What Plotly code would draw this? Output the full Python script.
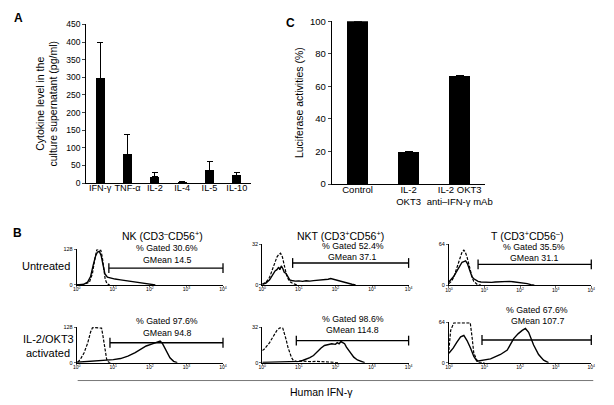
import plotly.graph_objects as go

# ---------------- data ----------------
cytokines = ["IFN-γ", "TNF-α", "IL-2", "IL-4", "IL-5", "IL-10"]
cytokine_values = [298, 82, 18, 3, 37, 22]
cytokine_errors = [100, 55, 13, 2, 25, 9]

luc_labels = ["Control", "IL-2<br>OKT3", "IL-2 OKT3<br>anti–IFN-γ mAb"]
luc_values = [100, 19.5, 66.5]
luc_errors = [2, 0.5, 0]

hist_ticks = [0, 1, 2, 3, 4]
hist_ticktext = ["10<sup>0</sup>", "10<sup>1</sup>", "10<sup>2</sup>", "10<sup>3</sup>", "10<sup>4</sup>"]

# NK untreated (log10 fluorescence, counts)
nk_u_solid_x = [0.0, 0.1, 0.2, 0.3, 0.38, 0.45, 0.52, 0.57, 0.62, 0.67, 0.72, 0.77, 0.84, 0.95, 1.05, 1.2, 1.4, 1.6, 1.8, 1.95, 2.05, 2.15]
nk_u_solid_y = [0, 1, 3, 10, 30, 70, 105, 118, 120, 105, 70, 40, 28, 24, 21, 18, 14, 10, 6, 3, 1, 0]
nk_u_dash_x = [0.0, 0.2, 0.35, 0.43, 0.5, 0.55, 0.6, 0.66, 0.7, 0.74, 0.78, 0.83, 0.9]
nk_u_dash_y = [0, 2, 10, 40, 95, 126, 126, 124, 100, 55, 20, 4, 0]
# NK activated
nk_a_solid_x = [0.0, 0.2, 0.4, 0.6, 0.8, 1.0, 1.2, 1.4, 1.6, 1.75, 1.9, 2.05, 2.15, 2.22, 2.28, 2.34, 2.4, 2.47, 2.55, 2.65, 2.75]
nk_a_solid_y = [2, 4, 6, 7, 8, 11, 15, 24, 36, 48, 60, 67, 72, 76, 78, 70, 55, 38, 18, 5, 0]
nk_a_dash_x = [0.03, 0.1, 0.2, 0.3, 0.38, 0.43, 0.47, 0.55, 0.62, 0.68, 0.72, 0.77, 0.82, 0.87, 0.92]
nk_a_dash_y = [2, 12, 35, 70, 110, 125, 126, 126, 126, 124, 95, 45, 12, 2, 0]
# NKT untreated
nkt_u_solid_x = [0.0, 0.1, 0.2, 0.28, 0.35, 0.4, 0.45, 0.48, 0.52, 0.56, 0.6, 0.65, 0.7, 0.75, 0.8, 0.9, 1.0, 1.1, 1.2, 1.3, 1.4, 1.5, 1.6, 1.7, 1.8, 1.87, 1.95, 2.05, 2.15, 2.25, 2.35, 2.45, 2.55]
nkt_u_solid_y = [0.5, 1.5, 4, 8, 11, 12, 14, 12, 15, 13, 10, 9, 6, 4, 3.5, 3, 3.2, 2.8, 3.3, 3, 3.4, 3.6, 4, 4.2, 4.5, 5, 4.3, 3.8, 2.8, 2, 1.2, 0.5, 0]
nkt_u_dash_x = [0.0, 0.1, 0.2, 0.28, 0.35, 0.4, 0.45, 0.5, 0.55, 0.6, 0.66, 0.72, 0.78, 0.85, 0.95]
nkt_u_dash_y = [0.5, 2, 6, 12, 18, 22, 24, 25, 22, 16, 8, 4, 2, 1, 0]
# NKT activated
nkt_a_solid_x = [0.0, 0.3, 0.6, 0.9, 1.0, 1.1, 1.2, 1.3, 1.4, 1.5, 1.6, 1.7, 1.8, 1.9, 2.0, 2.05, 2.1, 2.15, 2.2, 2.25, 2.3, 2.4, 2.5, 2.6, 2.7, 2.8]
nkt_a_solid_y = [0.3, 0.4, 0.5, 0.8, 1.2, 2, 3, 4.5, 6.5, 10, 13, 15.5, 16, 17, 16.5, 18, 17, 19, 18, 17, 14, 9, 5, 2.5, 1, 0]
nkt_a_dash_x = [0.0, 0.05, 0.1, 0.15, 0.2, 0.27, 0.33, 0.4, 0.47, 0.52, 0.56, 0.6, 0.65, 0.7, 0.75, 0.8, 0.85, 0.95, 1.1, 1.3, 1.5, 1.7, 1.9, 2.1]
nkt_a_dash_y = [11, 12, 14, 16, 18, 22, 25, 29, 31, 31.5, 31, 27, 21, 14, 8, 4.5, 2, 1, 1.5, 1, 1.2, 0.6, 0.3, 0]
# T untreated
t_u_solid_x = [0.0, 0.07, 0.14, 0.21, 0.28, 0.33, 0.37, 0.42, 0.47, 0.52, 0.56, 0.61, 0.65, 0.7, 0.75, 0.82, 0.9, 1.0, 1.1, 1.2, 1.3, 1.4, 1.5, 1.6, 1.7, 1.8, 1.9, 2.0, 2.1, 2.2, 2.3, 2.4]
t_u_solid_y = [5, 9, 14, 21, 28, 33, 36, 37, 38, 34, 28, 20, 13, 10, 8, 6, 5, 4.5, 5, 4.5, 5, 5.5, 5, 5.5, 6, 5.5, 5, 4.5, 3.5, 2.5, 1, 0]
t_u_dash_x = [0.0, 0.07, 0.14, 0.21, 0.28, 0.33, 0.37, 0.42, 0.46, 0.51, 0.56, 0.61, 0.66, 0.7, 0.75, 0.8, 0.9]
t_u_dash_y = [2.5, 6, 13, 24, 36, 46, 52, 55, 52, 44, 32, 20, 11, 6, 3, 1, 0]
# T activated
t_a_solid_x = [0.0, 0.12, 0.23, 0.33, 0.42, 0.51, 0.61, 0.7, 0.79, 0.93, 1.17, 1.45, 1.64, 1.82, 1.95, 2.06, 2.15, 2.24, 2.38, 2.52, 2.66, 2.8]
t_a_solid_y = [15, 23, 33, 41, 43, 35, 23, 10, 2.5, 3.5, 6, 13, 20, 38, 46, 51, 54, 48, 28, 13, 4, 0]
t_a_dash_x = [0.0, 0.05, 0.14, 0.3, 0.45, 0.6, 0.65, 0.7, 0.78, 0.84, 1.0]
t_a_dash_y = [20, 51, 63, 63, 63, 63, 41, 15, 5, 0.5, 0]

gate_starts = [0.88, 0.83, 0.82, 0.91, 0.93, 0.93]
gated_pct = ["30.6%", "52.4%", "35.5%", "97.6%", "98.6%", "67.6%"]
gmeans = ["14.5", "37.1", "31.1", "94.8", "114.8", "107.7"]
hist_ymax = [128, 32, 64, 128, 32, 64]

# ---------------- layout helpers ----------------
W, H = 614, 405
def px(x):
    return x / W
def py(y):
    return 1 - y / H

FONT = "Liberation Sans, Arial, sans-serif"
fig = go.Figure()

# Panel A
fig.add_trace(go.Bar(
    x=cytokines, y=cytokine_values, width=0.33, marker=dict(color="black", line=dict(width=0)),
    error_y=dict(type="data", symmetric=False, array=cytokine_errors,
                 arrayminus=[0] * len(cytokine_errors), color="black", thickness=1, width=3),
    xaxis="x", yaxis="y", showlegend=False))

# Panel C
fig.add_trace(go.Bar(
    x=luc_labels, y=luc_values, width=0.4, marker=dict(color="black", line=dict(width=0)),
    error_y=dict(type="data", symmetric=False, array=luc_errors,
                 arrayminus=[0] * len(luc_errors), color="black", thickness=1, width=4),
    xaxis="x2", yaxis="y2", showlegend=False))

hists = [
    (nk_u_solid_x, nk_u_solid_y, nk_u_dash_x, nk_u_dash_y),
    (nkt_u_solid_x, nkt_u_solid_y, nkt_u_dash_x, nkt_u_dash_y),
    (t_u_solid_x, t_u_solid_y, t_u_dash_x, t_u_dash_y),
    (nk_a_solid_x, nk_a_solid_y, nk_a_dash_x, nk_a_dash_y),
    (nkt_a_solid_x, nkt_a_solid_y, nkt_a_dash_x, nkt_a_dash_y),
    (t_a_solid_x, t_a_solid_y, t_a_dash_x, t_a_dash_y),
]
# pixel boxes: x0, x1, ytop, ybottom
hist_boxes = [
    (74, 223, 250, 286.7), (263, 412, 245, 286.7), (453, 598, 245, 287),
    (74, 223, 330, 366.7), (263, 412, 330, 366.7), (453, 598, 325, 366.7),
]
gate_frac = [0.47, 0.54, 0.51, 0.56, 0.62, 0.56]
text_pos = [(166, 249, 261), (355, 247, 258), (540, 248, 259),
            (166, 324, 336), (355, 322, 333), (543, 313, 324)]

layout = dict(
    width=W, height=H, margin=dict(l=0, r=0, t=0, b=0),
    paper_bgcolor="white", plot_bgcolor="white",
    font=dict(family=FONT, color="black"),
    showlegend=False, bargap=0,
    xaxis=dict(domain=[px(84), px(251)], anchor="y", range=[-0.5, 5.5], showline=True,
               linecolor="black", linewidth=1.3, ticks="", tickfont=dict(size=9.2), showgrid=False,
               ticklabelstandoff=-4, tickangle=0),
    yaxis=dict(domain=[py(182), py(19)], anchor="x", range=[0, 450], dtick=50, showline=True,
               linecolor="black", linewidth=1.3, ticks="outside", ticklen=3, tickwidth=1,
               tickfont=dict(size=8.5), showgrid=False, zeroline=False,
               title=dict(text="Cytokine level in the<br>culture supernatant (pg/ml)",
                          font=dict(size=10.5), standoff=6)),
    xaxis2=dict(domain=[px(334), px(490)], anchor="y2", range=[-0.5, 2.5], showline=True,
                linecolor="black", linewidth=1.3, ticks="", tickfont=dict(size=9.5), showgrid=False,
                ticklabelstandoff=-4, tickangle=0),
    yaxis2=dict(domain=[py(183), py(15.7)], anchor="x2", range=[0, 100], dtick=20, showline=True,
                linecolor="black", linewidth=1.3, ticks="outside", ticklen=3, tickwidth=1,
                tickfont=dict(size=9.5), showgrid=False, zeroline=False,
                title=dict(text="Luciferase activities (%)", font=dict(size=10.5), standoff=4)),
)

annotations = []
shapes = []
for i, ((sx, sy, dx, dy), (x0, x1, yt, yb)) in enumerate(zip(hists, hist_boxes)):
    n = i + 3
    xa, ya = f"x{n}", f"y{n}"
    ymax = hist_ymax[i]
    fig.add_trace(go.Scatter(x=dx, y=dy, mode="lines", line=dict(color="black", width=1.2, dash="3px,1.5px"),
                             xaxis=xa, yaxis=ya, showlegend=False))
    fig.add_trace(go.Scatter(x=sx, y=sy, mode="lines", line=dict(color="black", width=1.4),
                             xaxis=xa, yaxis=ya, showlegend=False))
    gy = gate_frac[i] * ymax
    fig.add_trace(go.Scatter(x=[gate_starts[i], 4], y=[gy, gy], mode="lines+markers",
                             line=dict(color="black", width=1.3),
                             marker=dict(symbol="line-ns-open", size=7, line=dict(color="black", width=1.3)),
                             cliponaxis=False, xaxis=xa, yaxis=ya, showlegend=False))
    layout[f"xaxis{n}"] = dict(domain=[px(x0), px(x1)], anchor=ya, range=[0, 4], tickvals=hist_ticks,
                              ticktext=hist_ticktext, showline=True, linecolor="black", linewidth=1,
                              ticks="outside", ticklen=1.5, tickwidth=0.8, tickfont=dict(size=5),
                              showgrid=False, zeroline=False, ticklabelstandoff=-2, tickangle=0)
    layout[f"yaxis{n}"] = dict(domain=[py(yb), py(yt)], anchor=xa, range=[0, ymax], tickvals=[0, ymax],
                              showline=True, linecolor="black", linewidth=1, ticks="outside",
                              ticklen=2, tickwidth=0.8, tickfont=dict(size=5.5),
                              showgrid=False, zeroline=False)
    tx, ty1, ty2 = text_pos[i]
    annotations.append(dict(x=px(tx), y=py(ty1), xref="paper", yref="paper", showarrow=False,
                            text=f"% Gated {gated_pct[i]}", font=dict(size=8.8), xanchor="center", yanchor="middle"))
    annotations.append(dict(x=px(tx), y=py(ty2), xref="paper", yref="paper", showarrow=False,
                            text=f"GMean {gmeans[i]}", font=dict(size=8.8), xanchor="center", yanchor="middle"))

def label(x, y, text, size, bold=False, xanchor="center"):
    annotations.append(dict(x=px(x), y=py(y), xref="paper", yref="paper", showarrow=False,
                            text=f"<b>{text}</b>" if bold else text, font=dict(size=size),
                            xanchor=xanchor, yanchor="middle"))

label(15, 12, "A", 12, True)
label(292, 17, "C", 12, True)
label(14, 233, "B", 12, True)
label(161, 236, "NK (CD3<sup>–</sup>CD56<sup>+</sup>)", 10.5)
label(343, 236, "NKT (CD3<sup>+</sup>CD56<sup>+</sup>)", 10.5)
label(533, 236, "T (CD3<sup>+</sup>CD56<sup>–</sup>)", 10.5)
label(43, 267, "Untreated", 11)
label(45, 342, "IL-2/OKT3", 11)
label(45, 357, "activated", 11)
label(323, 397, "Human IFN-γ", 10.5)
shapes.append(dict(type="line", xref="paper", yref="paper", x0=px(75), x1=px(600), y0=py(385), y1=py(385),
                   line=dict(color="#777777", width=1)))

layout["annotations"] = annotations
layout["shapes"] = shapes
fig.update_layout(**layout)
fig.write_html("out.html", config={"displayModeBar": False, "staticPlot": True},
               post_script="document.body.style.margin='0px';document.body.style.overflow='hidden';")
